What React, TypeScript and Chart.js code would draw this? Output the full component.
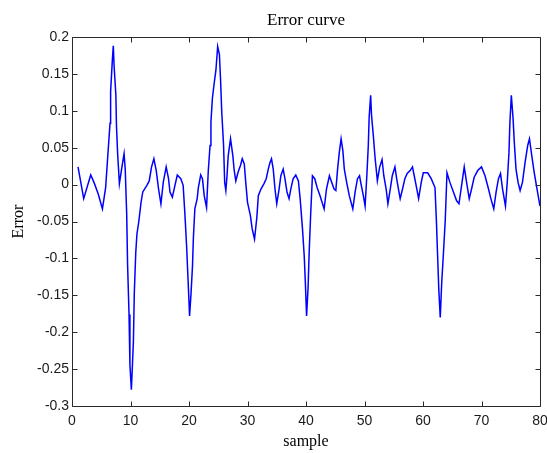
import React, { useEffect, useRef } from "react";
import { Chart, registerables } from "chart.js";

// sample positions
const sampleX: number[] = [
  1.03, 2.0, 3.2, 3.76, 4.5, 5.2, 5.75, 6.1, 6.5, 6.6, 6.9, 7.06, 7.2, 7.5, 7.6, 7.8, 8.1, 8.5, 8.9, 9.1,
  9.35, 9.5, 9.75, 9.9, 10.15, 10.3, 10.5, 10.65, 10.9, 11.1, 11.4, 11.6, 11.8, 12.1, 12.8, 13.2, 13.6, 14.0, 14.4, 14.8,
  15.2, 15.6, 16.1, 16.5, 16.75, 17.15, 17.6, 18.0, 18.6, 19.0, 19.3, 19.6, 19.85, 20.1, 20.35, 20.6, 20.75, 21.0, 21.4, 21.6,
  22.0, 22.3, 22.6, 23.0, 23.3, 23.6, 23.75, 24.0, 24.3, 24.6, 24.9, 25.2, 25.4, 25.6, 25.9, 26.1, 26.3, 26.5, 26.7, 27.1,
  27.5, 27.7, 28.0, 28.4, 28.8, 29.1, 29.45, 29.7, 30.0, 30.5, 30.8, 31.2, 31.6, 31.85, 32.3, 32.8, 33.2, 33.55, 33.85, 34.1,
  34.4, 34.7, 35.0, 35.4, 35.7, 36.1, 36.4, 36.75, 37.1, 37.4, 37.8, 38.25, 38.7, 39.0, 39.4, 39.7, 39.9, 40.1, 40.35, 40.55,
  40.8, 41.1, 41.5, 41.9, 42.4, 43.1, 43.5, 44.0, 44.4, 44.8, 45.1, 45.4, 45.7, 46.0, 46.3, 46.55, 46.95, 47.4, 48.0, 48.4,
  48.8, 49.15, 49.4, 49.8, 50.1, 50.4, 50.65, 50.8, 51.05, 51.2, 51.5, 51.8, 52.2, 52.6, 53.0, 53.3, 53.7, 54.0, 54.4, 54.75,
  55.2, 55.5, 55.85, 56.1, 56.5, 56.9, 57.3, 57.8, 58.2, 58.5, 58.9, 59.25, 59.7, 60.05, 60.8, 61.4, 62.05, 62.3, 62.5, 62.7,
  62.95, 63.2, 63.5, 63.8, 64.1, 64.6, 65.2, 65.75, 66.15, 66.6, 67.05, 67.45, 67.9, 68.3, 68.75, 69.35, 70.0, 70.6, 71.2, 71.6,
  72.1, 72.5, 72.9, 73.25, 73.6, 74.1, 74.4, 74.7, 74.85, 75.1, 75.4, 75.6, 75.9, 76.25, 76.6, 77.0, 77.45, 77.9, 78.2, 78.6,
  79.0, 79.45, 80.0,
];

const errorValues: number[] = [
  0.024, -0.019, 0.013, 0.003, -0.013, -0.033, -0.004, 0.037, 0.083, 0.126, 0.169, 0.188, 0.16, 0.121, 0.08, 0.042, 0.001, 0.022, 0.042, 0.021,
  -0.04, -0.108, -0.176, -0.244, -0.278, -0.25, -0.212, -0.147, -0.092, -0.067, -0.051, -0.038, -0.024, -0.01, -0.001, 0.005, 0.024, 0.035, 0.019, -0.006,
  -0.026, 0.003, 0.024, 0.008, -0.01, -0.017, -0.001, 0.013, 0.008, -0.001, -0.04, -0.085, -0.131, -0.178, -0.147, -0.11, -0.072, -0.033, -0.019, -0.004,
  0.013, 0.008, -0.015, -0.031, 0.019, 0.053, 0.085, 0.117, 0.137, 0.155, 0.187, 0.176, 0.141, 0.098, 0.055, 0.003, -0.008, 0.012, 0.039, 0.062,
  0.039, 0.021, 0.005, 0.017, 0.026, 0.035, 0.028, 0.003, -0.024, -0.042, -0.06, -0.074, -0.044, -0.015, -0.006, 0.001, 0.008, 0.021, 0.03, 0.035,
  0.021, -0.006, -0.026, -0.006, 0.012, 0.021, 0.008, -0.01, -0.019, -0.006, 0.008, 0.013, 0.005, -0.019, -0.06, -0.097, -0.135, -0.178, -0.14, -0.09,
  -0.04, 0.012, 0.008, -0.004, -0.015, -0.033, -0.006, 0.012, 0.003, -0.006, -0.008, 0.021, 0.044, 0.062, 0.046, 0.021, 0.003, -0.015, -0.033, -0.01,
  0.008, 0.012, 0.001, -0.015, -0.029, 0.012, 0.053, 0.092, 0.121, 0.094, 0.067, 0.037, 0.005, 0.024, 0.034, 0.012, -0.006, -0.026, -0.006, 0.012,
  0.024, 0.008, -0.008, -0.019, -0.006, 0.008, 0.015, 0.019, 0.024, 0.012, -0.004, -0.019, 0.003, 0.016, 0.016, 0.008, -0.004, -0.051, -0.097, -0.142,
  -0.18, -0.133, -0.092, -0.049, 0.016, 0.003, -0.01, -0.022, -0.026, -0.001, 0.024, 0.003, -0.019, -0.006, 0.01, 0.019, 0.024, 0.012, -0.006, -0.019,
  -0.033, -0.01, 0.008, 0.015, -0.006, -0.029, 0.003, 0.044, 0.083, 0.121, 0.089, 0.058, 0.021, 0.003, -0.008, 0.003, 0.03, 0.053, 0.062, 0.039,
  0.017, -0.004, -0.029,
];

const xTickValues: number[] = [0, 10, 20, 30, 40, 50, 60, 70, 80];
const yTickValues: number[] = [0.2, 0.15, 0.1, 0.05, 0, -0.05, -0.1, -0.15, -0.2, -0.25, -0.3];

const chartTitle = "Error curve";
const xTitle = "sample";
const yTitle = "Error";

const SANS = "'Liberation Sans', Arial, sans-serif";
const SERIF = "'Liberation Serif', 'Times New Roman', serif";

const matlabAxes = {
  id: "matlabAxes",
  afterDraw(chart: any) {
    const { ctx, chartArea, scales } = chart;
    if (!chartArea || !scales.x || !scales.y) return;
    const left = Math.round(chartArea.left) + 0.5;
    const right = Math.round(chartArea.right) + 0.5;
    const top = Math.round(chartArea.top) + 0.5;
    const bottom = Math.round(chartArea.bottom) + 0.5;
    const xs = scales.x;
    const ys = scales.y;
    const tl = 5;
    ctx.save();
    ctx.strokeStyle = "#2a2a2a";
    ctx.lineWidth = 1;
    ctx.beginPath();
    ctx.moveTo(left, top);
    ctx.lineTo(right, top);
    ctx.lineTo(right, bottom);
    ctx.lineTo(left, bottom);
    ctx.closePath();
    xTickValues.forEach((v) => {
      const px = Math.round(xs.getPixelForValue(v)) + 0.5;
      ctx.moveTo(px, bottom);
      ctx.lineTo(px, bottom - tl);
      ctx.moveTo(px, top);
      ctx.lineTo(px, top + tl);
    });
    yTickValues.forEach((v) => {
      const py = Math.round(ys.getPixelForValue(v)) + 0.5;
      ctx.moveTo(left, py);
      ctx.lineTo(left + tl, py);
      ctx.moveTo(right, py);
      ctx.lineTo(right - tl, py);
    });
    ctx.stroke();

    // MATLAB-style title, centred over the axes box
    ctx.fillStyle = "#000";
    ctx.font = `17px ${SERIF}`;
    ctx.textAlign = "center";
    ctx.textBaseline = "middle";
    ctx.fillText(chartTitle, (chartArea.left + chartArea.right) / 2, 21);
    ctx.restore();
  },
};

Chart.register(...registerables, matlabAxes);

export default function App() {
  const ref = useRef<HTMLCanvasElement | null>(null);

  useEffect(() => {
    document.body.style.margin = "0";
    const canvas = ref.current;
    if (!canvas) return;
    const points = sampleX.map((x, i) => ({ x, y: errorValues[i] }));
    const chart = new Chart(canvas, {
      type: "line",
      data: {
        datasets: [
          {
            data: points,
            borderColor: "#0000ff",
            borderWidth: 1.5,
            pointRadius: 0,
            tension: 0,
            fill: false,
          },
        ],
      },
      options: {
        responsive: false,
        animation: false,
        devicePixelRatio: 1,
        layout: { padding: { left: 0, right: 7, top: 37, bottom: 0 } },
        plugins: {
          legend: { display: false },
          tooltip: { enabled: false },
          title: { display: false },
        },
        scales: {
          x: {
            type: "linear",
            min: 0,
            max: 80,
            grid: { display: false, drawTicks: false },
            border: { display: false },
            afterBuildTicks: (scale: any) => {
              scale.ticks = xTickValues.map((v) => ({ value: v }));
            },
            afterFit: (scale: any) => {
              scale.height = 47;
              scale.paddingLeft = 0;
              scale.paddingRight = 0;
            },
            ticks: {
              color: "#1a1a1a",
              font: { family: SANS, size: 14 },
              padding: 7,
              maxRotation: 0,
              autoSkip: false,
              callback: (v: any) => String(v),
            },
            title: {
              display: true,
              text: xTitle,
              color: "#000",
              font: { family: SERIF, size: 16, lineHeight: 1.2 },
              padding: { top: 0, bottom: 1.4 },
            },
          },
          y: {
            type: "linear",
            min: -0.3,
            max: 0.2,
            grid: { display: false, drawTicks: false },
            border: { display: false },
            afterBuildTicks: (scale: any) => {
              scale.ticks = yTickValues.map((v) => ({ value: v }));
            },
            afterFit: (scale: any) => {
              scale.width = 72;
              scale.paddingTop = 0;
              scale.paddingBottom = 0;
            },
            ticks: {
              color: "#1a1a1a",
              font: { family: SANS, size: 14 },
              padding: 3,
              autoSkip: false,
              callback: (v: any) => String(Number(Number(v).toFixed(2))),
            },
            title: {
              display: true,
              text: yTitle,
              color: "#000",
              font: { family: SERIF, size: 16, lineHeight: 1.2 },
              padding: { top: 8.7, bottom: 0 },
            },
          },
        },
      },
    } as any);
    return () => chart.destroy();
  }, []);

  return (
    <div style={{ width: 547, height: 453, background: "#fff" }}>
      <canvas ref={ref} width={547} height={453} style={{ display: "block" }} />
    </div>
  );
}
